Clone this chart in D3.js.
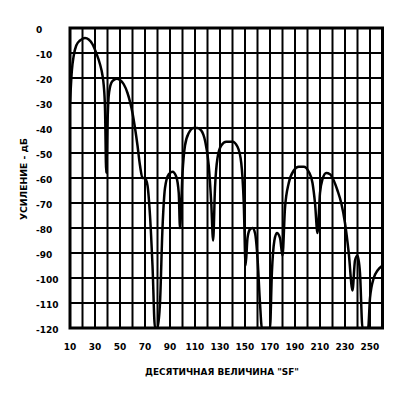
<!DOCTYPE html>
<html lang="ru">
<head>
  <meta charset="UTF-8">
  <title>Усиление</title>
  <script src="https://d3js.org/d3.v7.min.js"></script>
  <style>
    body { margin: 0; background: #fff; }
    text { font-family: "DejaVu Sans", sans-serif; font-weight: bold; fill: #000; }
  </style>
</head>
<body>
  <script>
    // 1. Data
    const xTicks = [10, 30, 50, 70, 90, 110, 130, 150, 170, 190, 210, 230, 250];
    const yTicks = [0, -10, -20, -30, -40, -50, -60, -70, -80, -90, -100, -110, -120];
    const sf = [
      10, 11.5, 13, 15, 18, 20, 22, 25, 28, 31, 34, 36, 37, 38, 39,
      40, 41, 43, 45, 47.5, 50, 53, 56, 58, 60, 62, 64, 66, 68, 70, 72, 74, 76, 78, 80,
      82, 84, 86, 89, 92, 95, 97, 98,
      100, 102, 105, 109, 112, 115, 118, 121, 123, 124.5,
      126, 128, 131, 135, 140, 144, 147, 149, 150.5,
      152, 154, 156, 158, 160, 162, 163.5, 170,
      171.5, 173.5, 175.5, 178, 180,
      182, 185, 189, 193, 197, 201, 204, 206, 208,
      210, 212, 215, 218, 221, 224, 227, 230, 233, 236,
      238, 240, 242, 244, 248.5,
      250, 253, 256, 260
    ];
    const gain = [
      -30, -17, -11, -7, -5, -4.3, -4, -4.6, -6.5, -10, -14.5, -19, -23, -32, -58,
      -38, -27, -22, -20.8, -20.3, -20.8, -22.5, -26, -29.5, -34, -40, -47, -55, -60, -60, -63, -75, -95, -120, -120,
      -110, -80, -64, -58.5, -57.5, -59.5, -66, -80,
      -58, -47, -42, -40, -40, -41, -45, -55, -70, -85,
      -64, -52, -47, -45.5, -45.5, -47.5, -54, -70, -95,
      -84, -80.5, -80, -82, -92, -110, -120, -120,
      -98, -85, -82, -84, -91,
      -72, -62, -57, -55.5, -55.5, -57.5, -62, -70, -82,
      -66, -60.5, -58, -58.5, -61, -65, -70, -78, -90, -105,
      -93, -91, -98, -120, -120,
      -108, -100, -97, -95
    ];
    const data = sf.map((v, i) => ({ x: v, y: gain[i] }));

    // 2. SVG
    const width = 417, height = 396;
    const svg = d3.select("body").append("svg")
      .attr("width", width)
      .attr("height", height);

    // 3. Scales
    const x = d3.scaleLinear().domain([10, 260]).range([70, 382.5]);
    const y = d3.scaleLinear().domain([0, -120]).range([28, 328]);

    // 4. Grid
    const grid = svg.append("g").attr("stroke", "#000").attr("stroke-width", 2);
    grid.selectAll(".v").data(d3.range(10, 261, 10)).join("line")
      .attr("x1", d => x(d)).attr("x2", d => x(d))
      .attr("y1", y(0)).attr("y2", y(-120));
    grid.selectAll(".h").data(yTicks).join("line")
      .attr("x1", x(10)).attr("x2", x(260))
      .attr("y1", d => y(d)).attr("y2", d => y(d));
    svg.append("rect")
      .attr("x", x(10)).attr("y", y(0))
      .attr("width", x(260) - x(10)).attr("height", y(-120) - y(0))
      .attr("fill", "none").attr("stroke", "#000").attr("stroke-width", 3);

    // 5. Curve
    svg.append("clipPath").attr("id", "clip")
      .append("rect")
      .attr("x", x(10)).attr("y", y(0))
      .attr("width", x(260) - x(10)).attr("height", y(-120) - y(0));

    const line = d3.line()
      .x(d => x(d.x))
      .y(d => y(d.y))
      .curve(d3.curveMonotoneX);

    svg.append("path")
      .datum(data)
      .attr("clip-path", "url(#clip)")
      .attr("fill", "none")
      .attr("stroke", "#000")
      .attr("stroke-width", 2.5)
      .attr("stroke-linejoin", "round")
      .attr("d", line);

    // 6. Tick labels
    svg.append("g").selectAll("text").data(yTicks).join("text")
      .attr("x", 36)
      .attr("y", d => y(d) + 2)
      .attr("dominant-baseline", "central")
      .attr("font-size", 9)
      .text(d => d);

    svg.append("g").selectAll("text").data(xTicks).join("text")
      .attr("x", d => x(d))
      .attr("y", 347)
      .attr("text-anchor", "middle")
      .attr("dominant-baseline", "central")
      .attr("font-size", 9)
      .text(d => d);

    // 7. Axis titles
    svg.append("text")
      .attr("x", 222).attr("y", 372)
      .attr("text-anchor", "middle")
      .attr("dominant-baseline", "central")
      .attr("font-size", 8)
      .attr("textLength", 154)
      .attr("lengthAdjust", "spacingAndGlyphs")
      .text("ДЕСЯТИЧНАЯ ВЕЛИЧИНА \"SF\"");

    svg.append("text")
      .attr("transform", "translate(24,179) rotate(-90)")
      .attr("text-anchor", "middle")
      .attr("dominant-baseline", "central")
      .attr("font-size", 8)
      .attr("textLength", 82)
      .attr("lengthAdjust", "spacingAndGlyphs")
      .text("УСИЛЕНИЕ - дБ");
  </script>
</body>
</html>
